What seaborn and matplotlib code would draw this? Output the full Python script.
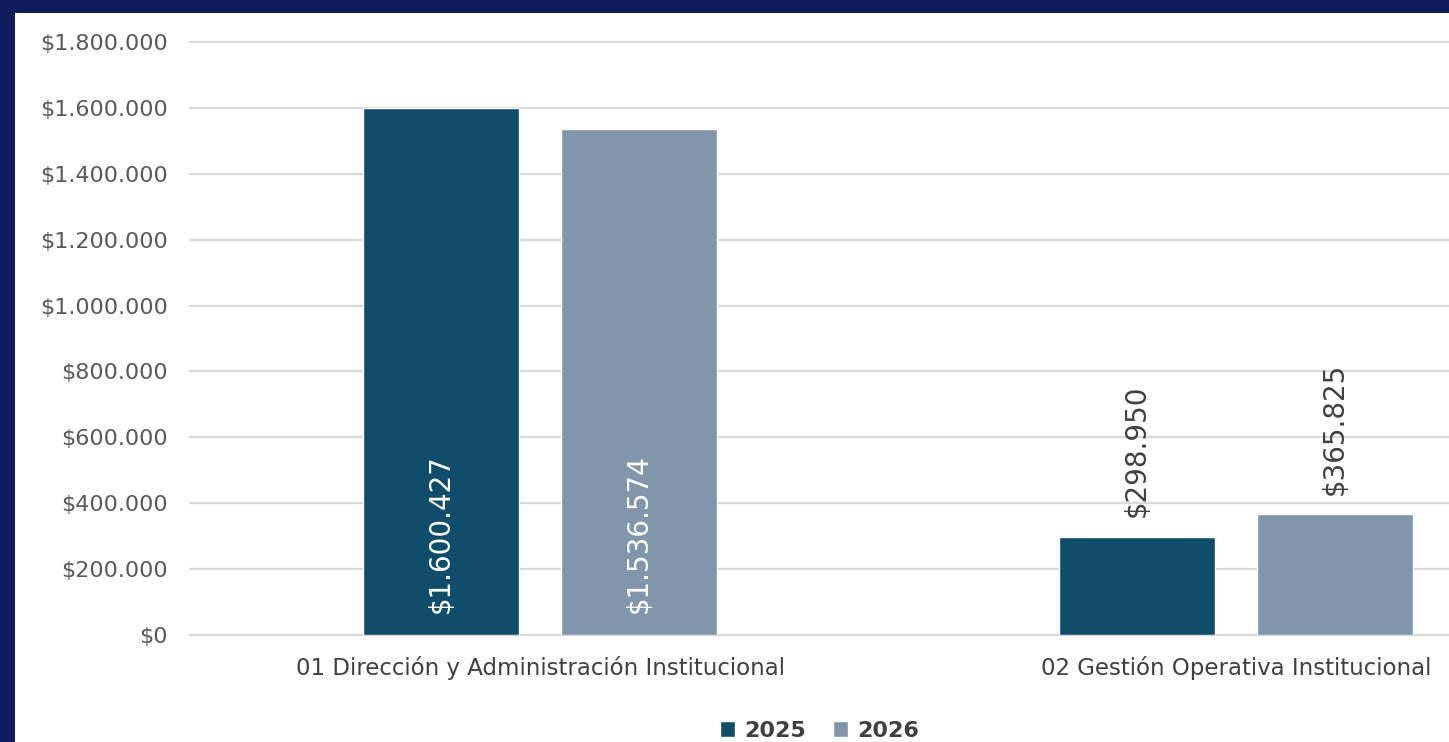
import pandas as pd
import numpy as np
import matplotlib.pyplot as plt
import matplotlib.ticker as mticker
from matplotlib.patches import Rectangle
import seaborn as sns

# datos
programas = ['01 Dirección y Administración Institucional',
             '02 Gestión Operativa Institucional']
anios = ['2025', '2026']
valores_2025 = [1600427, 298950]
valores_2026 = [1536574, 365825]
colores = ['#0f4d6b', '#8196aa']

df = pd.DataFrame({
    'programa': programas * 2,
    'anio': ['2025'] * 2 + ['2026'] * 2,
    'valor': valores_2025 + valores_2026,
})

def pesos(v):
    return '$' + f'{v:,.0f}'.replace(',', '.')

sns.set_style('white')
plt.rcParams['font.family'] = ['DejaVu Sans']

fig = plt.figure(figsize=(14.49, 7.42), dpi=100)
fig.patch.set_facecolor('#0f1d5c')
# panel blanco (borde azul arriba e izquierda)
fig.patches.append(Rectangle((15 / 1449, 0), 1, 1 - 13 / 742, transform=fig.transFigure,
                             facecolor='white', edgecolor='none', zorder=-10))

ax = fig.add_axes([190 / 1449, 1 - 635 / 742, 1 - 190 / 1449, 593 / 742])
ax.set_facecolor('none')

sns.barplot(data=df, x='programa', y='valor', hue='anio', hue_order=anios,
            palette=colores, saturation=1, width=0.569, gap=0.21, ax=ax)

ax.set_ylim(0, 1800000)
ax.set_xlim(-0.503, 1.306)
ax.yaxis.set_major_locator(mticker.MultipleLocator(200000))
ax.yaxis.set_major_formatter(mticker.FuncFormatter(lambda v, p: pesos(v)))
ax.grid(axis='y', color='#d9d9d9', linewidth=1.6, zorder=0)
for gl in ax.get_ygridlines():
    gl.set_clip_on(False)
ax.set_axisbelow(True)
for s in ax.spines.values():
    s.set_visible(False)
ax.tick_params(axis='y', length=0, pad=16, labelsize=16, labelcolor='#595959')
ax.tick_params(axis='x', length=0, pad=15, labelsize=16.5, labelcolor='#404040')
ax.set_xlabel('')
ax.set_ylabel('')

# etiquetas de valor
for cont in ax.containers:
    for bar in cont:
        h = bar.get_height()
        xc = bar.get_x() + bar.get_width() / 2
        if h > 1000000:
            ax.annotate(pesos(h), (xc, 0), xytext=(0, 16), textcoords='offset points',
                        rotation=90, ha='center', va='bottom', color='white', fontsize=20)
        else:
            ax.annotate(pesos(h), (xc, h), xytext=(0, 14), textcoords='offset points',
                        rotation=90, ha='center', va='bottom', color='#404040', fontsize=20)

leg = ax.legend(loc='upper center', bbox_to_anchor=(0.5, -0.145), ncol=2, frameon=False,
                handlelength=0.7, handleheight=0.7, handletextpad=0.4, columnspacing=1.2,
                borderaxespad=0, borderpad=0, prop={'size': 16, 'weight': 'bold'})
for t in leg.get_texts():
    t.set_color('#404040')

fig.savefig('out.png', dpi=100, facecolor=fig.get_facecolor())
